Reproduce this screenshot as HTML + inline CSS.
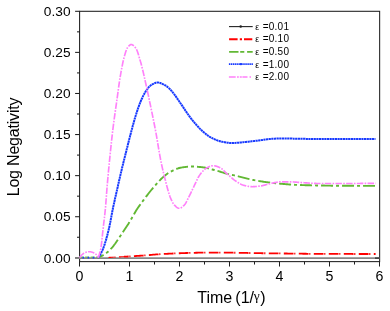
<!DOCTYPE html>
<html><head><meta charset="utf-8"><title>chart</title>
<style>
html,body{margin:0;padding:0;background:#fff;}
svg{display:block;font-family:"Liberation Sans",sans-serif;will-change:transform;}
</style></head><body>
<svg width="390" height="311" viewBox="0 0 390 311">
<rect x="0" y="0" width="390" height="311" fill="#fff"/>
<g stroke="#1e1e1e" stroke-width="1.05" fill="none">
<rect x="79.6" y="11.3" width="300.04999999999995" height="250.32"/>
<line x1="75.1" y1="257.80" x2="79.6" y2="257.80"/>
<line x1="77.0" y1="237.26" x2="79.6" y2="237.26"/>
<line x1="75.1" y1="216.72" x2="79.6" y2="216.72"/>
<line x1="77.0" y1="196.17" x2="79.6" y2="196.17"/>
<line x1="75.1" y1="175.63" x2="79.6" y2="175.63"/>
<line x1="77.0" y1="155.09" x2="79.6" y2="155.09"/>
<line x1="75.1" y1="134.55" x2="79.6" y2="134.55"/>
<line x1="77.0" y1="114.01" x2="79.6" y2="114.01"/>
<line x1="75.1" y1="93.47" x2="79.6" y2="93.47"/>
<line x1="77.0" y1="72.92" x2="79.6" y2="72.92"/>
<line x1="75.1" y1="52.38" x2="79.6" y2="52.38"/>
<line x1="77.0" y1="31.84" x2="79.6" y2="31.84"/>
<line x1="75.1" y1="11.30" x2="79.6" y2="11.30"/>
<line x1="79.50" y1="261.62" x2="79.50" y2="266.52"/>
<line x1="104.50" y1="261.62" x2="104.50" y2="264.52"/>
<line x1="129.50" y1="261.62" x2="129.50" y2="266.52"/>
<line x1="154.50" y1="261.62" x2="154.50" y2="264.52"/>
<line x1="179.50" y1="261.62" x2="179.50" y2="266.52"/>
<line x1="204.50" y1="261.62" x2="204.50" y2="264.52"/>
<line x1="229.50" y1="261.62" x2="229.50" y2="266.52"/>
<line x1="254.50" y1="261.62" x2="254.50" y2="264.52"/>
<line x1="279.50" y1="261.62" x2="279.50" y2="266.52"/>
<line x1="304.50" y1="261.62" x2="304.50" y2="264.52"/>
<line x1="329.50" y1="261.62" x2="329.50" y2="266.52"/>
<line x1="354.50" y1="261.62" x2="354.50" y2="264.52"/>
<line x1="379.50" y1="261.62" x2="379.50" y2="266.52"/>
</g>
<g fill="none" stroke-linecap="butt" stroke-linejoin="round">
<path d="M75,258.1 L379.6,258.1" stroke="#878787" stroke-width="1.9"/>
<path d="M375,258.1 L379.6,258.1" stroke="#333" stroke-width="1.4"/>
<path d="M375.60,254.00 L375.00,254.00 L374.00,254.00 L373.00,254.00 L372.00,254.00 L371.00,254.00 L370.00,254.00 L369.00,254.00 L368.00,254.00 L367.00,254.00 L366.00,254.00 L365.00,253.99 L364.00,253.99 L363.00,253.99 L362.00,253.99 L361.00,253.99 L360.00,253.99 L359.00,253.99 L358.00,253.99 L357.00,253.98 L356.00,253.98 L355.00,253.98 L354.00,253.98 L353.00,253.98 L352.00,253.97 L351.00,253.97 L350.00,253.97 L349.00,253.97 L348.00,253.97 L347.00,253.97 L346.00,253.96 L345.00,253.96 L344.00,253.96 L343.00,253.96 L342.00,253.95 L341.00,253.95 L340.00,253.95 L339.00,253.95 L338.00,253.95 L337.00,253.94 L336.00,253.94 L335.00,253.94 L334.00,253.93 L333.00,253.93 L332.00,253.93 L331.00,253.92 L330.00,253.92 L329.00,253.91 L328.00,253.91 L327.00,253.90 L326.00,253.90 L325.00,253.89 L324.00,253.89 L323.00,253.88 L322.00,253.88 L321.00,253.87 L320.00,253.87 L319.00,253.86 L318.00,253.85 L317.00,253.85 L316.00,253.84 L315.00,253.83 L314.00,253.83 L313.00,253.82 L312.00,253.81 L311.00,253.81 L310.00,253.80 L309.00,253.79 L308.00,253.78 L307.00,253.78 L306.00,253.77 L305.00,253.76 L304.00,253.74 L303.00,253.73 L302.00,253.72 L301.00,253.71 L300.00,253.70 L299.00,253.68 L298.00,253.67 L297.00,253.66 L296.00,253.65 L295.00,253.63 L294.00,253.62 L293.00,253.60 L292.00,253.59 L291.00,253.58 L290.00,253.56 L289.00,253.55 L288.00,253.54 L287.00,253.52 L286.00,253.51 L285.00,253.50 L284.00,253.49 L283.00,253.48 L282.00,253.46 L281.00,253.45 L280.00,253.44 L279.00,253.43 L278.00,253.42 L277.00,253.41 L276.00,253.40 L275.00,253.39 L274.00,253.37 L273.00,253.36 L272.00,253.35 L271.00,253.34 L270.00,253.33 L269.00,253.32 L268.00,253.30 L267.00,253.29 L266.00,253.28 L265.00,253.27 L264.00,253.25 L263.00,253.24 L262.00,253.23 L261.00,253.21 L260.00,253.20 L259.00,253.19 L258.00,253.17 L257.00,253.15 L256.00,253.14 L255.00,253.12 L254.00,253.10 L253.00,253.08 L252.00,253.06 L251.00,253.04 L250.00,253.02 L249.00,253.00 L248.00,252.98 L247.00,252.96 L246.00,252.94 L245.00,252.92 L244.00,252.90 L243.00,252.88 L242.00,252.86 L241.00,252.84 L240.00,252.82 L239.00,252.80 L238.00,252.79 L237.00,252.77 L236.00,252.76 L235.00,252.74 L234.00,252.73 L233.00,252.72 L232.00,252.71 L231.00,252.70 L230.00,252.69 L229.00,252.68 L228.00,252.67 L227.00,252.66 L226.00,252.65 L225.00,252.64 L224.00,252.63 L223.00,252.62 L222.00,252.61 L221.00,252.60 L220.00,252.59 L219.00,252.59 L218.00,252.58 L217.00,252.57 L216.00,252.57 L215.00,252.56 L214.00,252.56 L213.00,252.55 L212.00,252.55 L211.00,252.55 L210.00,252.55 L209.00,252.55 L208.00,252.56 L207.00,252.56 L206.00,252.57 L205.00,252.58 L204.00,252.60 L203.00,252.61 L202.00,252.63 L201.00,252.65 L200.00,252.67 L199.00,252.69 L198.00,252.72 L197.00,252.74 L196.00,252.76 L195.00,252.79 L194.00,252.81 L193.00,252.84 L192.00,252.86 L191.00,252.89 L190.00,252.91 L189.00,252.94 L188.00,252.97 L187.00,252.99 L186.00,253.02 L185.00,253.06 L184.00,253.09 L183.00,253.12 L182.00,253.16 L181.00,253.19 L180.00,253.23 L179.00,253.27 L178.00,253.31 L177.00,253.35 L176.00,253.39 L175.00,253.44 L174.00,253.48 L173.00,253.52 L172.00,253.57 L171.00,253.61 L170.00,253.66 L169.00,253.70 L168.00,253.75 L167.00,253.80 L166.00,253.85 L165.00,253.90 L164.00,253.95 L163.00,254.01 L162.00,254.06 L161.00,254.12 L160.00,254.18 L159.00,254.25 L158.00,254.31 L157.00,254.38 L156.00,254.45 L155.00,254.53 L154.00,254.61 L153.00,254.70 L152.00,254.80 L151.00,254.89 L150.00,254.98 L149.00,255.08 L148.00,255.16 L147.00,255.25 L146.00,255.32 L145.00,255.40 L144.00,255.47 L143.00,255.54 L142.00,255.61 L141.00,255.68 L140.00,255.74 L139.00,255.81 L138.00,255.87 L137.00,255.94 L136.00,256.00 L135.00,256.06 L134.00,256.12 L133.00,256.19 L132.00,256.24 L131.00,256.30 L130.00,256.36 L129.00,256.42 L128.00,256.48 L127.00,256.53 L126.00,256.59 L125.00,256.64 L124.00,256.69" stroke="#ff0000" stroke-width="1.8" stroke-dasharray="9.7 3.4 1.2 0.7" stroke-dashoffset="7.9"/>
<path d="M124.00,256.69 L123.50,256.71 L122.50,256.74 L121.50,256.78 L120.50,256.82 L119.50,256.87 L118.50,256.91 L117.50,256.96 L116.50,257.01 L115.50,257.07 L114.50,257.12 L113.50,257.18 L112.50,257.24 L111.50,257.29 L110.50,257.36 L109.50,257.43 L108.50,257.50" stroke="#ff0000" stroke-width="1.15" stroke-dasharray="9.7 3.4 1.2 0.7" stroke-dashoffset="4.63"/>
<path d="M79.6,257.1 L98.3,257.1" stroke="#62b834" stroke-width="1" stroke-dasharray="4 1.5"/>
<path d="M98.30,257.60 L99.30,257.17 L100.30,256.70 L101.30,256.19 L102.30,255.65 L103.30,255.08 L104.30,254.47 L105.30,253.81 L106.30,253.09 L107.30,252.29 L108.30,251.42 L109.30,250.48 L110.30,249.50 L111.30,248.43 L112.30,247.28 L113.30,246.07 L114.30,244.79 L115.30,243.45 L116.30,242.01 L117.30,240.50 L118.30,238.96 L119.30,237.45 L120.30,235.95 L121.30,234.43 L122.30,232.91 L123.30,231.40 L124.30,229.91 L125.30,228.44 L126.30,226.98 L127.30,225.49 L128.30,223.94 L129.30,222.31 L130.30,220.62 L131.30,218.90 L132.30,217.18 L133.30,215.48 L134.30,213.74 L135.30,212.02 L136.30,210.35 L137.30,208.79 L138.30,207.31 L139.30,205.88 L140.30,204.50 L141.30,203.13 L142.30,201.77 L143.30,200.41 L144.30,199.05 L145.30,197.71 L146.30,196.37 L147.30,195.06 L148.30,193.77 L149.30,192.50 L150.30,191.25 L151.30,190.02 L152.30,188.80 L153.30,187.61 L154.30,186.43 L155.30,185.29 L156.30,184.17 L157.30,183.05 L158.30,181.94 L159.30,180.85 L160.30,179.80 L161.30,178.79 L162.30,177.85 L163.30,176.96 L164.30,176.10 L165.30,175.27 L166.30,174.47 L167.30,173.71 L168.30,173.02 L169.30,172.39 L170.30,171.84 L171.30,171.32 L172.30,170.81 L173.30,170.32 L174.30,169.85 L175.30,169.40 L176.30,168.99 L177.30,168.61 L178.30,168.28 L179.30,167.99 L180.30,167.75 L181.30,167.57 L182.30,167.40 L183.30,167.24 L184.30,167.09 L185.30,166.95 L186.30,166.83 L187.30,166.72 L188.30,166.63 L189.30,166.56 L190.30,166.52 L191.30,166.50 L192.30,166.51 L193.30,166.53 L194.30,166.58 L195.30,166.63 L196.30,166.70 L197.30,166.78 L198.30,166.87 L199.30,166.96 L200.30,167.06 L201.30,167.16 L202.30,167.27 L203.30,167.40 L204.30,167.56 L205.30,167.74 L206.30,167.95 L207.30,168.17 L208.30,168.41 L209.30,168.66 L210.30,168.92 L211.30,169.19 L212.30,169.47 L213.30,169.75 L214.30,170.03 L215.30,170.31 L216.30,170.59 L217.30,170.85 L218.30,171.13 L219.30,171.43 L220.30,171.75 L221.30,172.07 L222.30,172.39 L223.30,172.71 L224.30,173.03 L225.30,173.33 L226.30,173.61 L227.30,173.88 L228.30,174.11 L229.30,174.34 L230.30,174.55 L231.30,174.75 L232.30,174.95 L233.30,175.15 L234.30,175.36 L235.30,175.58 L236.30,175.81 L237.30,176.06 L238.30,176.31 L239.30,176.57 L240.30,176.84 L241.30,177.11 L242.30,177.38 L243.30,177.66 L244.30,177.93 L245.30,178.19 L246.30,178.45 L247.30,178.70 L248.30,178.95 L249.30,179.18 L250.30,179.40 L251.30,179.60 L252.30,179.80 L253.30,179.99 L254.30,180.18 L255.30,180.37 L256.30,180.55 L257.30,180.73 L258.30,180.90 L259.30,181.07 L260.30,181.23 L261.30,181.39 L262.30,181.54 L263.30,181.69 L264.30,181.84 L265.30,181.98 L266.30,182.11 L267.30,182.25 L268.30,182.38 L269.30,182.50 L270.30,182.63 L271.30,182.75 L272.30,182.86 L273.30,182.98 L274.30,183.09 L275.30,183.20 L276.30,183.30 L277.30,183.41 L278.30,183.50 L279.30,183.60 L280.30,183.69 L281.30,183.78 L282.30,183.87 L283.30,183.96 L284.30,184.04 L285.30,184.13 L286.30,184.21 L287.30,184.29 L288.30,184.37 L289.30,184.45 L290.30,184.52 L291.30,184.59 L292.30,184.66 L293.30,184.72 L294.30,184.78 L295.30,184.83 L296.30,184.88 L297.30,184.92 L298.30,184.95 L299.30,184.99 L300.30,185.03 L301.30,185.06 L302.30,185.09 L303.30,185.13 L304.30,185.16 L305.30,185.18 L306.30,185.21 L307.30,185.24 L308.30,185.27 L309.30,185.29 L310.30,185.31 L311.30,185.34 L312.30,185.36 L313.30,185.38 L314.30,185.40 L315.30,185.42 L316.30,185.44 L317.30,185.46 L318.30,185.48 L319.30,185.49 L320.30,185.51 L321.30,185.53 L322.30,185.54 L323.30,185.56 L324.30,185.57 L325.30,185.59 L326.30,185.61 L327.30,185.62 L328.30,185.64 L329.30,185.65 L330.30,185.67 L331.30,185.68 L332.30,185.69 L333.30,185.70 L334.30,185.72 L335.30,185.73 L336.30,185.74 L337.30,185.75 L338.30,185.76 L339.30,185.77 L340.30,185.78 L341.30,185.78 L342.30,185.79 L343.30,185.79 L344.30,185.80 L345.30,185.80 L346.30,185.80 L347.30,185.81 L348.30,185.81 L349.30,185.81 L350.30,185.81 L351.30,185.82 L352.30,185.82 L353.30,185.82 L354.30,185.82 L355.30,185.83 L356.30,185.83 L357.30,185.83 L358.30,185.83 L359.30,185.83 L360.30,185.84 L361.30,185.84 L362.30,185.84 L363.30,185.84 L364.30,185.84 L365.30,185.84 L366.30,185.84 L367.30,185.85 L368.30,185.85 L369.30,185.85 L370.30,185.85 L371.30,185.85 L372.30,185.85 L373.30,185.85 L374.30,185.85 L375.30,185.85 L375.70,185.85" stroke="#62b834" stroke-width="1.9" stroke-dasharray="12 3 3 3" stroke-dashoffset="6"/>
<path d="M82.5,257.6 L98.3,257.6" stroke="#183aff" stroke-width="1.8" stroke-dasharray="1.6 3.5"/>
<path d="M98.30,257.60 L98.80,256.97 L99.30,256.27 L99.80,255.48 L100.30,254.61 L100.80,253.69 L101.30,252.69 L101.80,251.64 L102.30,250.55 L102.80,249.40 L103.30,248.18 L103.80,246.85 L104.30,245.43 L104.80,243.91 L105.30,242.31 L105.80,240.63 L106.30,238.87 L106.80,237.05 L107.30,235.17 L107.80,233.23 L108.30,231.24 L108.80,229.21 L109.30,227.07 L109.80,224.71 L110.30,222.17 L110.80,219.52 L111.30,216.82 L111.80,214.12 L112.30,211.49 L112.80,208.98 L113.30,206.61 L113.80,204.29 L114.30,202.02 L114.80,199.78 L115.30,197.56 L115.80,195.34 L116.30,193.13 L116.80,190.91 L117.30,188.68 L117.80,186.46 L118.30,184.23 L118.80,182.02 L119.30,179.82 L119.80,177.63 L120.30,175.46 L120.80,173.32 L121.30,171.20 L121.80,169.11 L122.30,167.04 L122.80,165.00 L123.30,162.97 L123.80,160.95 L124.30,158.95 L124.80,156.96 L125.30,154.97 L125.80,152.98 L126.30,151.00 L126.80,149.01 L127.30,147.02 L127.80,145.03 L128.30,143.05 L128.80,141.07 L129.30,139.10 L129.80,137.14 L130.30,135.20 L130.80,133.28 L131.30,131.38 L131.80,129.50 L132.30,127.64 L132.80,125.79 L133.30,123.95 L133.80,122.15 L134.30,120.38 L134.80,118.65 L135.30,116.97 L135.80,115.33 L136.30,113.73 L136.80,112.17 L137.30,110.65 L137.80,109.17 L138.30,107.73 L138.80,106.32 L139.30,104.94 L139.80,103.61 L140.30,102.32 L140.80,101.10 L141.30,99.93 L141.80,98.80 L142.30,97.71 L142.80,96.66 L143.30,95.66 L143.80,94.71 L144.30,93.81 L144.80,92.94 L145.30,92.10 L145.80,91.31 L146.30,90.55 L146.80,89.81 L147.30,89.08 L147.80,88.38 L148.30,87.72 L148.80,87.12 L149.30,86.60 L149.80,86.14 L150.30,85.70 L150.80,85.30 L151.30,84.93 L151.80,84.59 L152.30,84.30 L152.80,84.05 L153.30,83.82 L153.80,83.58 L154.30,83.35 L154.80,83.14 L155.30,82.94 L155.80,82.78 L156.30,82.64 L156.80,82.55 L157.30,82.50 L157.80,82.51 L158.30,82.55 L158.80,82.62 L159.30,82.73 L159.80,82.86 L160.30,83.02 L160.80,83.20 L161.30,83.40 L161.80,83.61 L162.30,83.84 L162.80,84.07 L163.30,84.31 L163.80,84.56 L164.30,84.80 L164.80,85.05 L165.30,85.34 L165.80,85.67 L166.30,86.02 L166.80,86.41 L167.30,86.81 L167.80,87.24 L168.30,87.67 L168.80,88.12 L169.30,88.58 L169.80,89.06 L170.30,89.57 L170.80,90.11 L171.30,90.67 L171.80,91.24 L172.30,91.83 L172.80,92.44 L173.30,93.05 L173.80,93.68 L174.30,94.33 L174.80,95.01 L175.30,95.70 L175.80,96.41 L176.30,97.13 L176.80,97.86 L177.30,98.59 L177.80,99.31 L178.30,100.03 L178.80,100.75 L179.30,101.48 L179.80,102.21 L180.30,102.95 L180.80,103.69 L181.30,104.42 L181.80,105.16 L182.30,105.90 L182.80,106.64 L183.30,107.39 L183.80,108.14 L184.30,108.90 L184.80,109.65 L185.30,110.40 L185.80,111.15 L186.30,111.89 L186.80,112.61 L187.30,113.33 L187.80,114.04 L188.30,114.76 L188.80,115.46 L189.30,116.16 L189.80,116.85 L190.30,117.53 L190.80,118.19 L191.30,118.84 L191.80,119.48 L192.30,120.10 L192.80,120.70 L193.30,121.30 L193.80,121.89 L194.30,122.46 L194.80,123.04 L195.30,123.61 L195.80,124.17 L196.30,124.74 L196.80,125.31 L197.30,125.87 L197.80,126.44 L198.30,126.99 L198.80,127.54 L199.30,128.08 L199.80,128.60 L200.30,129.10 L200.80,129.59 L201.30,130.07 L201.80,130.53 L202.30,130.99 L202.80,131.44 L203.30,131.87 L203.80,132.30 L204.30,132.72 L204.80,133.14 L205.30,133.54 L205.80,133.95 L206.30,134.35 L206.80,134.75 L207.30,135.14 L207.80,135.51 L208.30,135.87 L208.80,136.21 L209.30,136.54 L209.80,136.84 L210.30,137.14 L210.80,137.42 L211.30,137.70 L211.80,137.96 L212.30,138.21 L212.80,138.46 L213.30,138.69 L213.80,138.91 L214.30,139.13 L214.80,139.34 L215.30,139.55 L215.80,139.76 L216.30,139.96 L216.80,140.16 L217.30,140.36 L217.80,140.55 L218.30,140.72 L218.80,140.90 L219.30,141.06 L219.80,141.21 L220.30,141.34 L220.80,141.47 L221.30,141.58 L221.80,141.68 L222.30,141.78 L222.80,141.88 L223.30,141.98 L223.80,142.08 L224.30,142.17 L224.80,142.26 L225.30,142.35 L225.80,142.44 L226.30,142.52 L226.80,142.60 L227.30,142.67 L227.80,142.73 L228.30,142.79 L228.80,142.85 L229.30,142.89 L229.80,142.93 L230.30,142.96 L230.80,142.98 L231.30,143.00 L231.80,143.00 L232.30,143.00 L232.80,142.99 L233.30,142.98 L233.80,142.96 L234.30,142.94 L234.80,142.92 L235.30,142.89 L235.80,142.87 L236.30,142.83 L236.80,142.80 L237.30,142.76 L237.80,142.72 L238.30,142.68 L238.80,142.64 L239.30,142.59 L239.80,142.54 L240.30,142.49 L240.80,142.44 L241.30,142.39 L241.80,142.34 L242.30,142.29 L242.80,142.24 L243.30,142.19 L243.80,142.13 L244.30,142.08 L244.80,142.03 L245.30,141.98 L245.80,141.93 L246.30,141.88 L246.80,141.83 L247.30,141.78 L247.80,141.73 L248.30,141.68 L248.80,141.63 L249.30,141.58 L249.80,141.53 L250.30,141.47 L250.80,141.42 L251.30,141.36 L251.80,141.30 L252.30,141.25 L252.80,141.19 L253.30,141.13 L253.80,141.07 L254.30,141.01 L254.80,140.95 L255.30,140.88 L255.80,140.82 L256.30,140.76 L256.80,140.70 L257.30,140.64 L257.80,140.57 L258.30,140.51 L258.80,140.45 L259.30,140.39 L259.80,140.32 L260.30,140.26 L260.80,140.20 L261.30,140.13 L261.80,140.06 L262.30,139.99 L262.80,139.91 L263.30,139.84 L263.80,139.76 L264.30,139.69 L264.80,139.61 L265.30,139.54 L265.80,139.47 L266.30,139.40 L266.80,139.33 L267.30,139.27 L267.80,139.21 L268.30,139.15 L268.80,139.10 L269.30,139.06 L269.80,139.01 L270.30,138.98 L270.80,138.94 L271.30,138.91 L271.80,138.87 L272.30,138.84 L272.80,138.80 L273.30,138.77 L273.80,138.74 L274.30,138.70 L274.80,138.67 L275.30,138.64 L275.80,138.61 L276.30,138.59 L276.80,138.56 L277.30,138.54 L277.80,138.51 L278.30,138.49 L278.80,138.47 L279.30,138.45 L279.80,138.44 L280.30,138.43 L280.80,138.42 L281.30,138.41 L281.80,138.40 L282.30,138.40 L282.80,138.40 L283.30,138.40 L283.80,138.41 L284.30,138.41 L284.80,138.42 L285.30,138.42 L285.80,138.43 L286.30,138.44 L286.80,138.45 L287.30,138.46 L287.80,138.47 L288.30,138.49 L288.80,138.50 L289.30,138.51 L289.80,138.53 L290.30,138.54 L290.80,138.56 L291.30,138.57 L291.80,138.59 L292.30,138.61 L292.80,138.62 L293.30,138.64 L293.80,138.65 L294.30,138.67 L294.80,138.68 L295.30,138.70 L295.80,138.71 L296.30,138.73 L296.80,138.74 L297.30,138.75 L297.80,138.76 L298.30,138.77 L298.80,138.78 L299.30,138.79 L299.80,138.80 L300.30,138.80 L300.80,138.81 L301.30,138.82 L301.80,138.82 L302.30,138.83 L302.80,138.83 L303.30,138.84 L303.80,138.85 L304.30,138.85 L304.80,138.86 L305.30,138.86 L305.80,138.87 L306.30,138.88 L306.80,138.88 L307.30,138.89 L307.80,138.89 L308.30,138.90 L308.80,138.90 L309.30,138.91 L309.80,138.91 L310.30,138.92 L310.80,138.92 L311.30,138.93 L311.80,138.93 L312.30,138.94 L312.80,138.94 L313.30,138.95 L313.80,138.95 L314.30,138.96 L314.80,138.96 L315.30,138.96 L315.80,138.97 L316.30,138.97 L316.80,138.97 L317.30,138.98 L317.80,138.98 L318.30,138.98 L318.80,138.99 L319.30,138.99 L319.80,138.99 L320.30,138.99 L320.80,138.99 L321.30,139.00 L321.80,139.00 L322.30,139.00 L322.80,139.00 L323.30,139.00 L323.80,139.00 L324.30,139.00 L324.80,139.00 L325.30,139.00 L325.80,139.00 L326.30,139.00 L326.80,139.00 L327.30,139.00 L327.80,139.00 L328.30,139.00 L328.80,139.00 L329.30,139.00 L329.80,139.00 L330.30,139.00 L330.80,139.00 L331.30,139.00 L331.80,139.00 L332.30,139.00 L332.80,139.00 L333.30,139.00 L333.80,139.00 L334.30,139.00 L334.80,139.00 L335.30,139.00 L335.80,139.00 L336.30,139.00 L336.80,139.00 L337.30,139.00 L337.80,139.00 L338.30,139.00 L338.80,139.00 L339.30,139.00 L339.80,139.00 L340.30,139.00 L340.80,139.00 L341.30,139.00 L341.80,139.00 L342.30,139.00 L342.80,139.00 L343.30,139.00 L343.80,139.00 L344.30,139.00 L344.80,139.00 L345.30,139.00 L345.80,139.00 L346.30,139.00 L346.80,139.00 L347.30,139.00 L347.80,139.00 L348.30,139.00 L348.80,139.00 L349.30,139.00 L349.80,139.00 L350.30,139.00 L350.80,139.00 L351.30,139.00 L351.80,139.00 L352.30,139.00 L352.80,139.00 L353.30,139.00 L353.80,139.00 L354.30,139.00 L354.80,139.00 L355.30,139.00 L355.80,139.00 L356.30,139.00 L356.80,139.00 L357.30,139.00 L357.80,139.00 L358.30,139.00 L358.80,139.00 L359.30,139.00 L359.80,139.00 L360.30,139.00 L360.80,139.00 L361.30,139.00 L361.80,139.00 L362.30,139.00 L362.80,139.00 L363.30,139.00 L363.80,139.00 L364.30,139.00 L364.80,139.00 L365.30,139.00 L365.80,139.00 L366.30,139.00 L366.80,139.00 L367.30,139.00 L367.80,139.00 L368.30,139.00 L368.80,139.00 L369.30,139.00 L369.80,139.00 L370.30,139.00 L370.80,139.00 L371.30,139.00 L371.80,139.00 L372.30,139.00 L372.80,139.00 L373.30,139.00 L373.80,139.00 L374.30,139.00 L374.80,139.00 L375.30,139.00 L375.50,139.00" stroke="#183aff" stroke-width="2.0" stroke-dasharray="2.2 0.45"/>
<path d="M79.50,257.60 L80.00,256.93 L80.50,256.30 L81.00,255.72 L81.50,255.19 L82.00,254.72 L82.50,254.27 L83.00,253.86 L83.50,253.48 L84.00,253.16 L84.50,252.90 L85.00,252.67 L85.50,252.45 L86.00,252.27 L86.50,252.11 L87.00,252.00 L87.50,251.91 L88.00,251.82 L88.50,251.76 L89.00,251.71 L89.50,251.70 L90.00,251.74 L90.50,251.82 L91.00,251.93 L91.50,252.07 L92.00,252.20 L92.50,252.35 L93.00,252.52 L93.50,252.73 L94.00,252.97 L94.50,253.23 L95.00,253.52 L95.50,253.87 L96.00,254.29 L96.50,254.76 L97.00,255.30 L97.50,255.90 L98.00,256.67 L98.50,257.60" stroke="#ff80fa" stroke-width="1.6" stroke-dasharray="6.5 1.3 1.6 1.3"/>
<path d="M98.50,257.60 L99.00,255.49 L99.50,253.59 L100.00,252.02 L100.50,250.28 L101.00,247.70 L101.50,243.90 L102.00,239.32 L102.50,234.42 L103.00,229.68 L103.50,225.40 L104.00,221.27 L104.50,217.05 L105.00,212.51 L105.50,207.41 L106.00,201.23 L106.50,194.44 L107.00,187.90 L107.50,182.08 L108.00,176.52 L108.50,171.17 L109.00,165.97 L109.50,160.90 L110.00,155.90 L110.50,150.97 L111.00,146.14 L111.50,141.43 L112.00,136.88 L112.50,132.52 L113.00,128.37 L113.50,124.41 L114.00,120.62 L114.50,116.95 L115.00,113.37 L115.50,109.85 L116.00,106.35 L116.50,102.85 L117.00,99.30 L117.50,95.66 L118.00,91.94 L118.50,88.24 L119.00,84.62 L119.50,81.18 L120.00,77.99 L120.50,75.07 L121.00,72.23 L121.50,69.48 L122.00,66.83 L122.50,64.30 L123.00,61.93 L123.50,59.72 L124.00,57.70 L124.50,55.90 L125.00,54.23 L125.50,52.61 L126.00,51.09 L126.50,49.72 L127.00,48.55 L127.50,47.62 L128.00,46.96 L128.50,46.36 L129.00,45.81 L129.50,45.33 L130.00,44.94 L130.50,44.66 L131.00,44.51 L131.50,44.52 L132.00,44.65 L132.50,44.89 L133.00,45.22 L133.50,45.63 L134.00,46.10 L134.50,46.63 L135.00,47.19 L135.50,47.78 L136.00,48.46 L136.50,49.38 L137.00,50.50 L137.50,51.80 L138.00,53.25 L138.50,54.82 L139.00,56.47 L139.50,58.18 L140.00,59.90 L140.50,61.62 L141.00,63.34 L141.50,65.16 L142.00,67.10 L142.50,69.13 L143.00,71.23 L143.50,73.40 L144.00,75.61 L144.50,77.84 L145.00,80.08 L145.50,82.31 L146.00,84.53 L146.50,86.79 L147.00,89.08 L147.50,91.39 L148.00,93.74 L148.50,96.11 L149.00,98.49 L149.50,100.89 L150.00,103.29 L150.50,105.70 L151.00,108.11 L151.50,110.51 L152.00,112.93 L152.50,115.35 L153.00,117.79 L153.50,120.25 L154.00,122.74 L154.50,125.27 L155.00,127.83 L155.50,130.44 L156.00,133.12 L156.50,135.92 L157.00,138.82 L157.50,141.79 L158.00,144.79 L158.50,147.79 L159.00,150.75 L159.50,153.64 L160.00,156.43 L160.50,159.09 L161.00,161.58 L161.50,163.98 L162.00,166.31 L162.50,168.56 L163.00,170.75 L163.50,172.87 L164.00,174.92 L164.50,176.91 L165.00,178.86 L165.50,180.82 L166.00,182.78 L166.50,184.71 L167.00,186.61 L167.50,188.47 L168.00,190.27 L168.50,191.99 L169.00,193.63 L169.50,195.17 L170.00,196.59 L170.50,197.89 L171.00,199.06 L171.50,200.17 L172.00,201.23 L172.50,202.22 L173.00,203.13 L173.50,203.94 L174.00,204.64 L174.50,205.20 L175.00,205.69 L175.50,206.17 L176.00,206.63 L176.50,207.05 L177.00,207.44 L177.50,207.76 L178.00,208.02 L178.50,208.20 L179.00,208.29 L179.50,208.28 L180.00,208.19 L180.50,208.01 L181.00,207.77 L181.50,207.46 L182.00,207.10 L182.50,206.69 L183.00,206.25 L183.50,205.78 L184.00,205.30 L184.50,204.80 L185.00,204.24 L185.50,203.52 L186.00,202.67 L186.50,201.71 L187.00,200.68 L187.50,199.62 L188.00,198.54 L188.50,197.50 L189.00,196.51 L189.50,195.53 L190.00,194.54 L190.50,193.53 L191.00,192.52 L191.50,191.50 L192.00,190.47 L192.50,189.42 L193.00,188.36 L193.50,187.31 L194.00,186.25 L194.50,185.21 L195.00,184.18 L195.50,183.12 L196.00,182.04 L196.50,180.96 L197.00,179.90 L197.50,178.87 L198.00,177.88 L198.50,176.96 L199.00,176.11 L199.50,175.35 L200.00,174.63 L200.50,173.94 L201.00,173.28 L201.50,172.66 L202.00,172.07 L202.50,171.52 L203.00,171.00 L203.50,170.50 L204.00,170.02 L204.50,169.55 L205.00,169.10 L205.50,168.67 L206.00,168.28 L206.50,167.94 L207.00,167.65 L207.50,167.41 L208.00,167.19 L208.50,166.97 L209.00,166.76 L209.50,166.55 L210.00,166.37 L210.50,166.20 L211.00,166.05 L211.50,165.92 L212.00,165.82 L212.50,165.75 L213.00,165.71 L213.50,165.70 L214.00,165.73 L214.50,165.79 L215.00,165.88 L215.50,165.99 L216.00,166.12 L216.50,166.27 L217.00,166.43 L217.50,166.61 L218.00,166.80 L218.50,167.00 L219.00,167.21 L219.50,167.42 L220.00,167.63 L220.50,167.90 L221.00,168.22 L221.50,168.58 L222.00,168.97 L222.50,169.40 L223.00,169.85 L223.50,170.33 L224.00,170.82 L224.50,171.32 L225.00,171.82 L225.50,172.33 L226.00,172.82 L226.50,173.31 L227.00,173.78 L227.50,174.23 L228.00,174.66 L228.50,175.09 L229.00,175.52 L229.50,175.96 L230.00,176.41 L230.50,176.85 L231.00,177.29 L231.50,177.73 L232.00,178.16 L232.50,178.58 L233.00,179.00 L233.50,179.40 L234.00,179.79 L234.50,180.17 L235.00,180.53 L235.50,180.87 L236.00,181.20 L236.50,181.54 L237.00,181.88 L237.50,182.21 L238.00,182.54 L238.50,182.86 L239.00,183.18 L239.50,183.48 L240.00,183.76 L240.50,184.03 L241.00,184.29 L241.50,184.52 L242.00,184.73 L242.50,184.91 L243.00,185.07 L243.50,185.21 L244.00,185.35 L244.50,185.48 L245.00,185.61 L245.50,185.74 L246.00,185.86 L246.50,185.98 L247.00,186.09 L247.50,186.20 L248.00,186.29 L248.50,186.38 L249.00,186.46 L249.50,186.53 L250.00,186.59 L250.50,186.64 L251.00,186.67 L251.50,186.69 L252.00,186.70 L252.50,186.70 L253.00,186.69 L253.50,186.67 L254.00,186.64 L254.50,186.61 L255.00,186.58 L255.50,186.54 L256.00,186.49 L256.50,186.45 L257.00,186.39 L257.50,186.34 L258.00,186.28 L258.50,186.22 L259.00,186.16 L259.50,186.09 L260.00,186.03 L260.50,185.97 L261.00,185.90 L261.50,185.83 L262.00,185.74 L262.50,185.64 L263.00,185.53 L263.50,185.41 L264.00,185.29 L264.50,185.15 L265.00,185.01 L265.50,184.86 L266.00,184.72 L266.50,184.57 L267.00,184.42 L267.50,184.27 L268.00,184.12 L268.50,183.98 L269.00,183.84 L269.50,183.70 L270.00,183.58 L270.50,183.46 L271.00,183.36 L271.50,183.26 L272.00,183.17 L272.50,183.07 L273.00,182.97 L273.50,182.87 L274.00,182.77 L274.50,182.67 L275.00,182.57 L275.50,182.48 L276.00,182.38 L276.50,182.30 L277.00,182.21 L277.50,182.13 L278.00,182.06 L278.50,182.00 L279.00,181.94 L279.50,181.89 L280.00,181.85 L280.50,181.82 L281.00,181.81 L281.50,181.80 L282.00,181.80 L282.50,181.80 L283.00,181.80 L283.50,181.80 L284.00,181.80 L284.50,181.80 L285.00,181.80 L285.50,181.80 L286.00,181.80 L286.50,181.80 L287.00,181.80 L287.50,181.80 L288.00,181.80 L288.50,181.80 L289.00,181.80 L289.50,181.80 L290.00,181.81 L290.50,181.82 L291.00,181.83 L291.50,181.85 L292.00,181.87 L292.50,181.90 L293.00,181.92 L293.50,181.96 L294.00,181.99 L294.50,182.03 L295.00,182.06 L295.50,182.10 L296.00,182.14 L296.50,182.18 L297.00,182.22 L297.50,182.27 L298.00,182.31 L298.50,182.35 L299.00,182.39 L299.50,182.43 L300.00,182.47 L300.50,182.50 L301.00,182.54 L301.50,182.57 L302.00,182.60 L302.50,182.63 L303.00,182.66 L303.50,182.69 L304.00,182.72 L304.50,182.75 L305.00,182.79 L305.50,182.82 L306.00,182.85 L306.50,182.89 L307.00,182.92 L307.50,182.95 L308.00,182.99 L308.50,183.02 L309.00,183.06 L309.50,183.09 L310.00,183.12 L310.50,183.15 L311.00,183.18 L311.50,183.21 L312.00,183.24 L312.50,183.27 L313.00,183.30 L313.50,183.33 L314.00,183.35 L314.50,183.37 L315.00,183.40 L315.50,183.41 L316.00,183.43 L316.50,183.45 L317.00,183.46 L317.50,183.48 L318.00,183.49 L318.50,183.49 L319.00,183.50 L319.50,183.50 L320.00,183.50 L320.50,183.50 L321.00,183.50 L321.50,183.50 L322.00,183.50 L322.50,183.50 L323.00,183.50 L323.50,183.50 L324.00,183.50 L324.50,183.50 L325.00,183.50 L325.50,183.50 L326.00,183.50 L326.50,183.50 L327.00,183.50 L327.50,183.50 L328.00,183.50 L328.50,183.50 L329.00,183.50 L329.50,183.50 L330.00,183.50 L330.50,183.50 L331.00,183.50 L331.50,183.50 L332.00,183.50 L332.50,183.50 L333.00,183.50 L333.50,183.50 L334.00,183.50 L334.50,183.50 L335.00,183.50 L335.50,183.50 L336.00,183.50 L336.50,183.50 L337.00,183.50 L337.50,183.50 L338.00,183.50 L338.50,183.50 L339.00,183.50 L339.50,183.50 L340.00,183.50 L340.50,183.50 L341.00,183.50 L341.50,183.50 L342.00,183.50 L342.50,183.50 L343.00,183.50 L343.50,183.50 L344.00,183.50 L344.50,183.50 L345.00,183.50 L345.50,183.50 L346.00,183.49 L346.50,183.49 L347.00,183.49 L347.50,183.49 L348.00,183.49 L348.50,183.49 L349.00,183.49 L349.50,183.49 L350.00,183.49 L350.50,183.48 L351.00,183.48 L351.50,183.48 L352.00,183.48 L352.50,183.48 L353.00,183.48 L353.50,183.47 L354.00,183.47 L354.50,183.47 L355.00,183.47 L355.50,183.47 L356.00,183.46 L356.50,183.46 L357.00,183.46 L357.50,183.46 L358.00,183.46 L358.50,183.45 L359.00,183.45 L359.50,183.45 L360.00,183.45 L360.50,183.44 L361.00,183.44 L361.50,183.44 L362.00,183.44 L362.50,183.43 L363.00,183.43 L363.50,183.43 L364.00,183.42 L364.50,183.42 L365.00,183.42 L365.50,183.42 L366.00,183.41 L366.50,183.41 L367.00,183.41 L367.50,183.40 L368.00,183.40 L368.50,183.40 L369.00,183.39 L369.50,183.39 L370.00,183.39 L370.50,183.38 L371.00,183.38 L371.50,183.38 L372.00,183.37 L372.50,183.37 L373.00,183.37 L373.50,183.36 L374.00,183.36 L374.50,183.36 L375.00,183.35 L375.50,183.35 L375.70,183.35" stroke="#ff80fa" stroke-width="1.65" stroke-dasharray="6.5 1.3 1.6 1.3"/>
</g>
<g>
<g font-size="13.7px" fill="#000">
<text x="70.5" y="262.50" text-anchor="end">0.00</text>
<text x="70.5" y="221.42" text-anchor="end">0.05</text>
<text x="70.5" y="180.33" text-anchor="end">0.10</text>
<text x="70.5" y="139.25" text-anchor="end">0.15</text>
<text x="70.5" y="98.17" text-anchor="end">0.20</text>
<text x="70.5" y="57.08" text-anchor="end">0.25</text>
<text x="70.5" y="16.00" text-anchor="end">0.30</text>
<text x="79.50" y="280.6" font-size="14.2px" text-anchor="middle">0</text>
<text x="129.50" y="280.6" font-size="14.2px" text-anchor="middle">1</text>
<text x="179.50" y="280.6" font-size="14.2px" text-anchor="middle">2</text>
<text x="229.50" y="280.6" font-size="14.2px" text-anchor="middle">3</text>
<text x="279.50" y="280.6" font-size="14.2px" text-anchor="middle">4</text>
<text x="329.50" y="280.6" font-size="14.2px" text-anchor="middle">5</text>
<text x="379.50" y="280.6" font-size="14.2px" text-anchor="middle">6</text>
</g>
<g>
<line x1="229" y1="26.6" x2="252.7" y2="26.6" stroke="#222" stroke-width="1.1"/>
<circle cx="240.7" cy="26.6" r="1.25" fill="#222"/>
<line x1="229.1" y1="39.199999999999996" x2="252.3" y2="39.199999999999996" stroke="#ff0000" stroke-width="1.9" stroke-dasharray="8.5 2.2 2.2 2 8.3 9"/>
<line x1="229.1" y1="51.8" x2="252.7" y2="51.8" stroke="#62b834" stroke-width="1.7" stroke-dasharray="9.4 1.7 4.1 2.8 5.6 9"/>
<line x1="228.9" y1="64.1" x2="252.9" y2="64.1" stroke="#183aff" stroke-width="1.8" stroke-dasharray="1.5 0.55"/>
<circle cx="240.9" cy="64.1" r="1.2" fill="#183aff"/>
<line x1="228.9" y1="76.95" x2="251" y2="76.95" stroke="#ff80fa" stroke-width="1.6" stroke-dasharray="6.8 1.3 1.8 1 2 0.6 5.1 2 1.5 9"/>
</g>
<g font-size="10px" fill="#000"><text x="255.2" y="30.10"><tspan font-size="8.6px">ε</tspan><tspan x="262.7" letter-spacing="0.25px">=0.01</tspan></text>
<text x="255.2" y="42.40"><tspan font-size="8.6px">ε</tspan><tspan x="262.7" letter-spacing="0.25px">=0.10</tspan></text>
<text x="255.2" y="55.00"><tspan font-size="8.6px">ε</tspan><tspan x="262.7" letter-spacing="0.25px">=0.50</tspan></text>
<text x="255.2" y="67.60"><tspan font-size="8.6px">ε</tspan><tspan x="262.7" letter-spacing="0.25px">=1.00</tspan></text>
<text x="255.2" y="80.00"><tspan font-size="8.6px">ε</tspan><tspan x="262.7" letter-spacing="0.25px">=2.00</tspan></text></g>
<text x="197.3" y="303" font-size="16px" fill="#000">Time <tspan x="235.3">(1/</tspan><tspan x="253.7" y="300.4" font-family="Liberation Serif" font-size="13.5px">γ</tspan><tspan x="260.2" y="303">)</tspan></text>
<text transform="translate(19.1,196.3) rotate(-90)" font-size="16px" letter-spacing="-0.2px" fill="#000">Log Negativity</text>
</g>
</svg>
</body></html>
